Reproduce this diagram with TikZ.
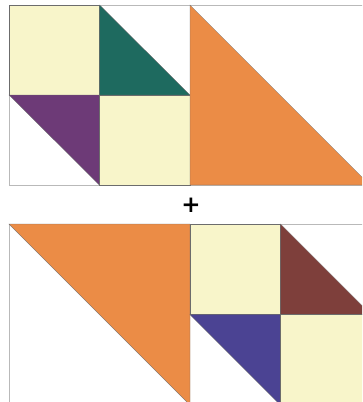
\documentclass[tikz,border=0pt]{standalone}
\usepackage{fontspec}
\setsansfont{DejaVu Sans}
\usetikzlibrary{positioning}
\definecolor{cream}{HTML}{F8F5CA}
\definecolor{teal}{HTML}{1E6A5F}
\definecolor{plum}{HTML}{6D3A77}
\definecolor{tangerine}{HTML}{EB8C46}
\definecolor{maroon}{HTML}{7E3F3B}
\definecolor{indigo}{HTML}{4B4393}
\tikzset{
    patch/.style={draw=gray!85!black, line width=0.35pt},
    frame/.style={draw=gray!55, line width=0.7pt}
}
\begin{document}
\begin{tikzpicture}[x=1pt, y=-1pt]
\useasboundingbox (0,0) rectangle (362,402);
\clip (0,0) rectangle (362,402);

% upper block
\draw[frame] (9,5) rectangle (372,185);
\filldraw[patch, fill=cream] (9,5) rectangle (99.5,95);
\filldraw[patch, fill=teal] (99.5,5) -- (99.5,95) -- (190,95) -- cycle;
\filldraw[patch, fill=plum] (9,95) -- (99.5,95) -- (99.5,185) -- cycle;
\filldraw[patch, fill=cream] (99.5,95) rectangle (190,185);
\filldraw[patch, fill=tangerine] (190,5) -- (190,185) -- (370,185) -- cycle;

\node[font=\fontsize{23}{26}\selectfont\sffamily\bfseries, inner sep=0pt] (plus) at (191,205.5) {+};

% lower block
\draw[frame] (9,224) rectangle (372,406);
\filldraw[patch, fill=tangerine] (9,224) -- (190,224) -- (190,405) -- cycle;
\filldraw[patch, fill=cream] (190,224) rectangle (280.5,314.5);
\filldraw[patch, fill=maroon] (280.5,224) -- (280.5,314.5) -- (371,314.5) -- cycle;
\filldraw[patch, fill=indigo] (190,314.5) -- (280.5,314.5) -- (280.5,405) -- cycle;
\filldraw[patch, fill=cream] (280.5,314.5) rectangle (371,405);

\end{tikzpicture}
\end{document}
